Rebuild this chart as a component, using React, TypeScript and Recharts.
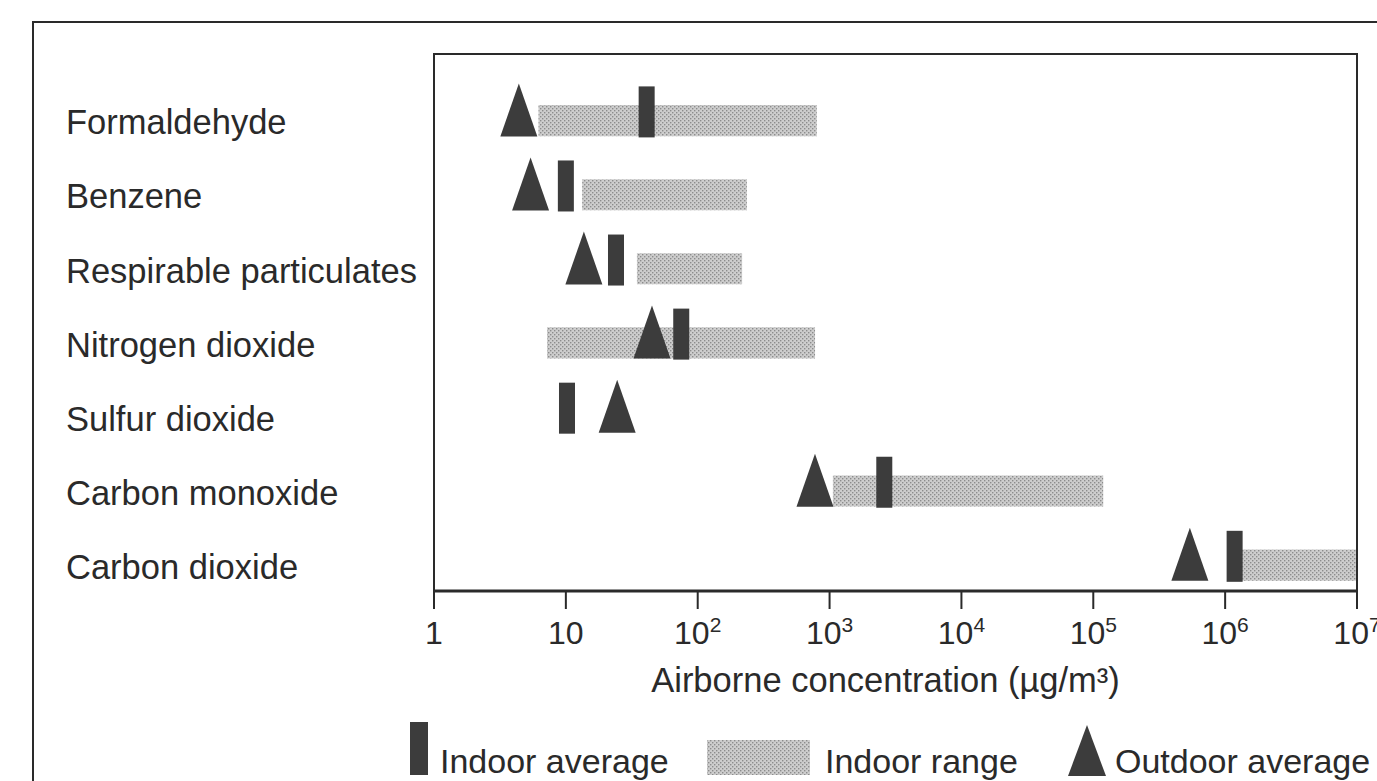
import {
  ScatterChart,
  Scatter,
  XAxis,
  YAxis,
  ReferenceArea,
  Legend,
} from 'recharts';

const substances = [
  'Formaldehyde',
  'Benzene',
  'Respirable particulates',
  'Nitrogen dioxide',
  'Sulfur dioxide',
  'Carbon monoxide',
  'Carbon dioxide',
];
// µg/m3
const indoorAverage = [41, 10, 24, 75, 10.2, 2600, 1.18e6];
const outdoorAverage = [4.4, 5.4, 13.7, 45, 24.5, 775, 5.4e5];
const indoorRangeLow = [6.2, 13.3, 34.6, 7.2, null, 1060, 1.34e6];
const indoorRangeHigh = [800, 236, 217, 776, null, 1.19e5, 1e7];

const xTicks = [1, 10, 100, 1e3, 1e4, 1e5, 1e6, 1e7];
const xTickBase = ['1', '10', '10', '10', '10', '10', '10', '10'];
const xTickSup = ['', '', '2', '3', '4', '5', '6', '7'];

const legendItems = ['Indoor average', 'Indoor range', 'Outdoor average'];

const FONT = '"Liberation Sans", Arial, Helvetica, sans-serif';
const INK = '#2a2a2a';
const MARK = '#3c3c3c';
const Y_DOMAIN: [number, number] = [-0.91, 6.34];

const indoorPts = indoorAverage.map((v, i) => ({ x: v, y: i }));
const outdoorPts = outdoorAverage.map((v, i) => ({ x: v, y: i }));

function IndoorMark(props: any) {
  const { cx, cy } = props;
  return <rect x={cx - 8} y={cy - 35} width={16} height={51} fill={MARK} />;
}

function OutdoorMark(props: any) {
  const { cx, cy } = props;
  return (
    <polygon
      points={`${cx - 18.5},${cy + 15} ${cx + 18.5},${cy + 15} ${cx},${cy - 38}`}
      fill={MARK}
    />
  );
}

function SubstanceTick(props: any) {
  const { y, payload } = props;
  return (
    <text x={66} y={y} dy={13} fontSize={34.5} fontFamily={FONT} fill={INK} textAnchor="start">
      {substances[payload.value]}
    </text>
  );
}

function ConcTick(props: any) {
  const { x, y, index } = props;
  return (
    <text x={x} y={y} dy={33} fontSize={32} fontFamily={FONT} fill={INK} textAnchor="middle">
      {xTickBase[index]}
      {xTickSup[index] ? (
        <tspan dy={-12} fontSize={21}>
          {xTickSup[index]}
        </tspan>
      ) : null}
    </text>
  );
}

function LegendContent() {
  return (
    <svg width={977} height={71} style={{ display: 'block', overflow: 'visible' }}>
      <rect x={10} y={12} width={18} height={53} fill={MARK} />
      <text x={40} y={63} fontSize={34} fontFamily={FONT} fill={INK}>{legendItems[0]}</text>
      <rect x={307} y={30} width={103} height={35} fill="url(#rangeDots)" />
      <text x={425} y={63} fontSize={34} fontFamily={FONT} fill={INK}>{legendItems[1]}</text>
      <polygon points="668,66 706,66 687,15" fill={MARK} />
      <text x={715} y={63} fontSize={34} fontFamily={FONT} fill={INK}>{legendItems[2]}</text>
    </svg>
  );
}

export default function App() {
  return (
    <div
      style={{
        position: 'absolute',
        left: 0,
        top: 0,
        width: 1377,
        height: 781,
        overflow: 'hidden',
        background: '#fff',
      }}
    >
      <div
        style={{
          position: 'absolute',
          left: 32,
          top: 21,
          width: 1420,
          height: 820,
          border: `2px solid ${INK}`,
        }}
      />
      <ScatterChart width={1377} height={781} margin={{ top: 54, right: 20, bottom: 0, left: 0 }}>
        <defs>
          <pattern id="rangeDots" width={4} height={4} patternUnits="userSpaceOnUse">
            <rect width={4} height={4} fill="#cdcdcd" />
            <rect x={0} y={0} width={1.4} height={1.4} fill="#8c8c8c" />
            <rect x={2} y={2} width={1.4} height={1.4} fill="#8c8c8c" />
          </pattern>
        </defs>
        <XAxis
          dataKey="x"
          type="number"
          scale="log"
          domain={[1, 1e7]}
          ticks={xTicks}
          allowDataOverflow
          interval={0}
          height={190}
          axisLine={{ stroke: INK, strokeWidth: 3 }}
          tickLine={{ stroke: INK, strokeWidth: 2 }}
          tickSize={18}
          tick={<ConcTick />}
          label={{
            content: (p: any) => (
              <text
                x={p.viewBox.x + p.viewBox.width / 2 - 10}
                y={p.viewBox.y + 101}
                fontSize={34.5}
                fontFamily={FONT}
                fill={INK}
                textAnchor="middle"
              >
                Airborne concentration (µg/m³)
              </text>
            ),
          }}
        />
        <YAxis
          dataKey="y"
          type="number"
          domain={Y_DOMAIN}
          reversed
          allowDataOverflow
          ticks={[0, 1, 2, 3, 4, 5, 6]}
          interval={0}
          width={434}
          axisLine={false}
          tickLine={false}
          tick={<SubstanceTick />}
        />
        {substances.map((s, i) =>
          indoorRangeLow[i] != null ? (
            <ReferenceArea
              key={s}
              x1={indoorRangeLow[i] as number}
              x2={indoorRangeHigh[i] as number}
              y1={i - 0.22}
              y2={i + 0.2}
              fill="url(#rangeDots)"
              fillOpacity={1}
              stroke="none"
              ifOverflow="visible"
            />
          ) : null
        )}
        <ReferenceArea
          x1={1}
          x2={1e7}
          y1={Y_DOMAIN[0]}
          y2={Y_DOMAIN[1]}
          fill="none"
          stroke={INK}
          strokeWidth={2}
          ifOverflow="visible"
        />
        <Scatter name="Indoor average" data={indoorPts} shape={<IndoorMark />} isAnimationActive={false} />
        <Scatter name="Outdoor average" data={outdoorPts} shape={<OutdoorMark />} isAnimationActive={false} />
        <Legend
          layout="horizontal"
          align="center"
          verticalAlign="middle"
          content={<LegendContent />}
          wrapperStyle={{ left: 400, top: 710, width: 977, height: 71 }}
        />
      </ScatterChart>
    </div>
  );
}
